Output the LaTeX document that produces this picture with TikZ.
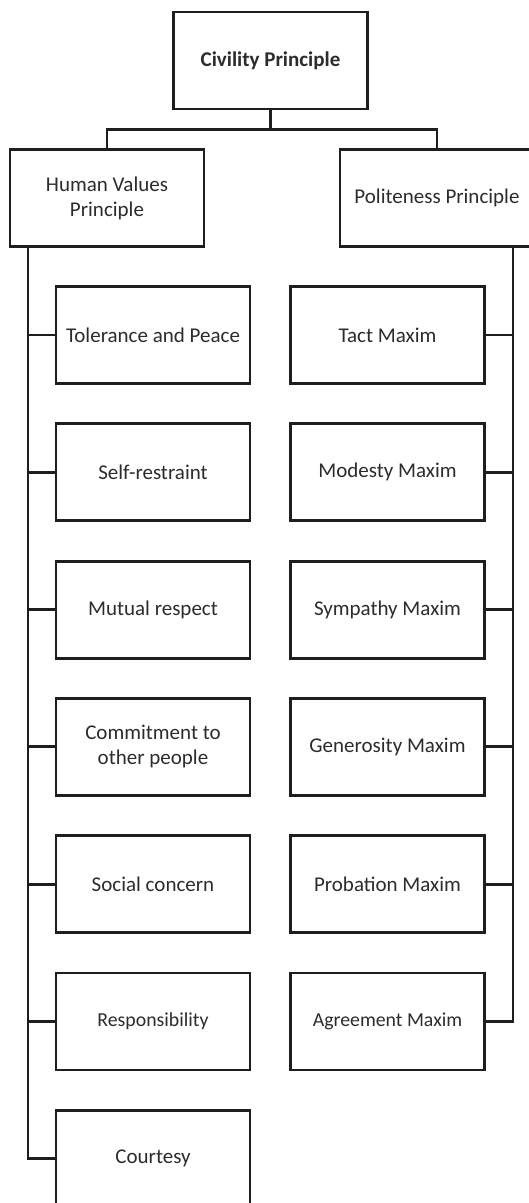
\documentclass[tikz,border=0pt]{standalone}
\usepackage{fontspec}
\setmainfont{Carlito}
\usetikzlibrary{positioning}
\definecolor{ink}{HTML}{1E1E1E}
\definecolor{label}{HTML}{2C2C2C}

\begin{document}
\begin{tikzpicture}[x=0.5pt,y=-0.5pt,node distance=18.7pt,
  box/.style={draw=ink,line width=1.45pt,fill=white,minimum width=97pt,minimum height=48.5pt,inner sep=1pt,align=center,text=label,font=\fontsize{10.5}{12.5}\selectfont},
  link/.style={draw=ink,line width=1.45pt}]
\useasboundingbox (0,0) rectangle (529,1203);
\node[box,font=\fontsize{10.5}{12.5}\selectfont\bfseries] (civility) at (270.5,60.5) {Civility Principle};
\node[box] (human) at (107,198) {Human Values\\Principle};
\node[box] (polite) at (437,198) {Politeness Principle};
% human values side
\node[box] (tolerance) at (153,335) {Tolerance and Peace};
\node[box,below=of tolerance] (restraint) {Self-restraint};
\node[box,below=of restraint] (respect) {Mutual respect};
\node[box,below=of respect] (commitment) {Commitment to\\other people};
\node[box,below=of commitment] (concern) {Social concern};
\node[box,below=of concern,font=\fontsize{9.9}{12}\selectfont] (responsibility) {Responsibility};
\node[box,below=of responsibility] (courtesy) {Courtesy};
% politeness side
\node[box] (tact) at (387.5,335) {Tact Maxim};
\node[box,below=of tact] (modesty) {Modesty Maxim};
\node[box,below=of modesty] (sympathy) {Sympathy Maxim};
\node[box,below=of sympathy] (generosity) {Generosity Maxim};
\node[box,below=of generosity] (probation) {Probation Maxim};
\node[box,below=of probation,font=\fontsize{9.9}{12}\selectfont] (agreement) {Agreement Maxim};
% connectors
\coordinate (leftrail) at (28,0);
\coordinate (rightrail) at (513,0);
\draw[link] (civility.south) -- ++(0,19.5) coordinate (fork);
\draw[link] (human.north) |- (fork) -| (polite.north);
\draw[link] (human.south -| leftrail) |- (courtesy.west);
\foreach \n in {tolerance,restraint,respect,commitment,concern,responsibility}
  \draw[link] (\n.west) -- (\n.west -| leftrail);
\draw[link] (polite.south -| rightrail) |- (agreement.east);
\foreach \n in {tact,modesty,sympathy,generosity,probation}
  \draw[link] (\n.east) -- (\n.east -| rightrail);
\end{tikzpicture}
\end{document}
